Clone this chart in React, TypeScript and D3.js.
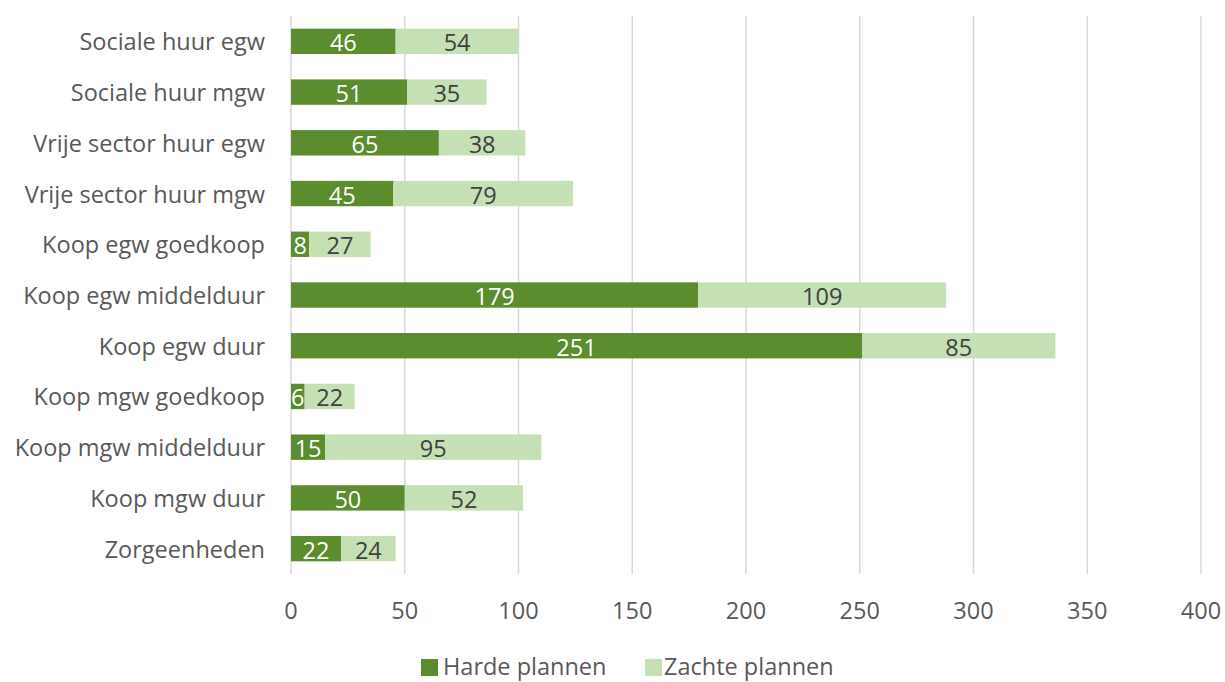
import React from "react";
import * as d3 from "d3";

const categories = [
  "Sociale huur egw",
  "Sociale huur mgw",
  "Vrije sector huur egw",
  "Vrije sector huur mgw",
  "Koop egw goedkoop",
  "Koop egw middelduur",
  "Koop egw duur",
  "Koop mgw goedkoop",
  "Koop mgw middelduur",
  "Koop mgw duur",
  "Zorgeenheden",
];
const harde = [46, 51, 65, 45, 8, 179, 251, 6, 15, 50, 22];
const zachte = [54, 35, 38, 79, 27, 109, 85, 22, 95, 52, 24];
const xTicks = [0, 50, 100, 150, 200, 250, 300, 350, 400];
const seriesNames = ["Harde plannen", "Zachte plannen"];
const colors = ["#5B8C2D", "#C5E0B4"];

export default function App() {
  const W = 1225, H = 682;
  const x = d3.scaleLinear().domain([0, 400]).range([291, 1201]);
  const y = d3.scaleBand<string>().domain(categories).range([16, 574]).paddingInner(0.5).paddingOuter(0.25);
  const font = "'Open Sans', Lato, sans-serif";
  const fs = 23.5;
  const rows = categories.map((c, i) => ({ c, h: harde[i], z: zachte[i] }));
  return (
    <svg width={W} height={H} style={{ position: "absolute", left: 0, top: 0, background: "#fff" }} fontFamily={font}>
      {xTicks.map((t) => (
        <line key={t} x1={x(t)} x2={x(t)} y1={16} y2={574} stroke="#D9D9D9" strokeWidth={1.5} />
      ))}
      {rows.map((r) => {
        const y0 = y(r.c)!;
        const bh = y.bandwidth();
        const cy = y0 + bh / 2;
        return (
          <g key={r.c}>
            <text x={265} y={cy} textAnchor="end" dominantBaseline="central" fontSize={fs} fill="#595959">{r.c}</text>
            <rect x={x(0)} y={y0} width={x(r.h) - x(0)} height={bh} fill={colors[0]} />
            <rect x={x(r.h)} y={y0} width={x(r.h + r.z) - x(r.h)} height={bh} fill={colors[1]} />
            <text x={(x(0) + x(r.h)) / 2} y={cy + 1} textAnchor="middle" dominantBaseline="central" fontSize={fs} fill="#fff">{r.h}</text>
            <text x={(x(r.h) + x(r.h + r.z)) / 2} y={cy + 1} textAnchor="middle" dominantBaseline="central" fontSize={fs} fill="#404040">{r.z}</text>
          </g>
        );
      })}
      {xTicks.map((t) => (
        <text key={t} x={x(t)} y={610} textAnchor="middle" dominantBaseline="central" fontSize={fs} fill="#595959">{t}</text>
      ))}
      <rect x={421} y={659} width={17} height={17} fill={colors[0]} />
      <text x={443} y={666} dominantBaseline="central" fontSize={fs} fill="#595959">{seriesNames[0]}</text>
      <rect x={645} y={659} width={17} height={17} fill={colors[1]} />
      <text x={664} y={666} dominantBaseline="central" fontSize={fs} fill="#595959">{seriesNames[1]}</text>
    </svg>
  );
}
